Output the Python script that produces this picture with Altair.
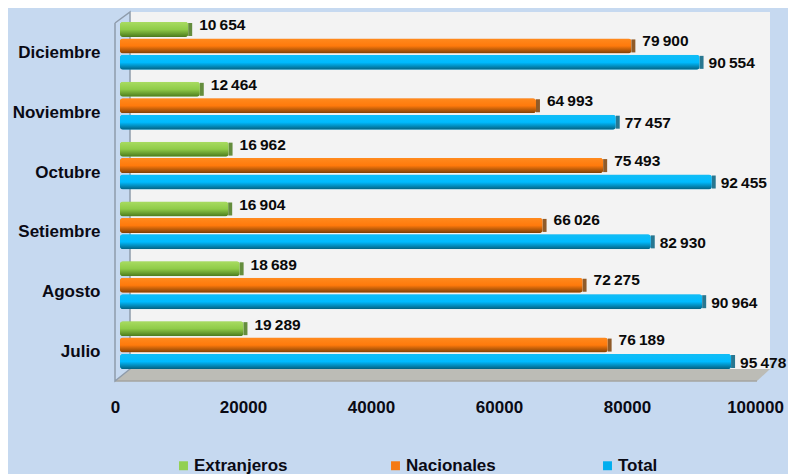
import altair as alt
import pandas as pd

months = ["Diciembre", "Noviembre", "Octubre", "Setiembre", "Agosto", "Julio"]
extranjeros = [10654, 12464, 16962, 16904, 18689, 19289]
nacionales = [79900, 64993, 75493, 66026, 72275, 76189]
total = [90554, 77457, 92455, 82930, 90964, 95478]
series = ["Extranjeros", "Nacionales", "Total"]
flat = ["#92d050", "#f57a14", "#00aeef"]
tops = ["#a9dc62", "#ff8a1e", "#12bdf5"]
mids = ["#8fcb48", "#ff7a0c", "#00bbff"]
lows = ["#4a7a1c", "#7d3f05", "#04607f"]
label_dy = [-4, -5, 1]
label_dx = [11, 11, 9]
ticks = [0, 20000, 40000, 60000, 80000, 100000]

rows = []
for name, vals in zip(series, [extranjeros, nacionales, total]):
    for m, v in zip(months, vals):
        rows.append({"month": m, "series": name, "value": v, "label": f"{v:,}".replace(",", "\u2009")})
df = pd.DataFrame(rows)

X = alt.X("value:Q", scale=alt.Scale(domain=[-781.25, 101562.5], nice=False, zero=False),
          axis=alt.Axis(values=ticks, format="d", grid=False, domain=False, ticks=False,
                        labelPadding=18, labelFlush=False, labelOffset=-5, labelFont="Liberation Sans",
                        labelFontWeight="bold", labelFontSize=17, labelColor="#0a0a14", title=None))
Y = alt.Y("month:N", sort=months, scale=alt.Scale(range=[4, 363], paddingInner=0, paddingOuter=0),
          axis=alt.Axis(grid=False, domain=False, ticks=False, labelPadding=15, labelOffset=7,
                        labelFont="Liberation Sans", labelFontWeight="bold", labelFontSize=17,
                        labelColor="#0a0a14", title=None))
YO = alt.YOffset("series:N", sort=series, scale=alt.Scale(paddingInner=0, paddingOuter=0.32))

# 3-D frame: back wall, floor, left wall
wall = alt.Chart(pd.DataFrame({"a": [0]})).mark_rect(color="#f3f3f3").encode(
    x=alt.value(15), x2=alt.value(655), y=alt.value(0), y2=alt.value(357))
floor_df = pd.DataFrame({"px": [0, 15, 642, 655], "py": [369, 357, 357, 357], "py2": [369, 369, 369, 357]})
floor = alt.Chart(floor_df).mark_area(color="#bcbcb6", interpolate="linear").encode(
    x=alt.X("px:Q", scale=None, axis=None), y=alt.Y("py:Q", scale=None, axis=None), y2="py2:Q")
edge_df = pd.DataFrame({"o": [0, 1, 2, 3, 4], "px": [0, 15, 15, 0, 0], "py": [11, 0, 357, 369, 11]})
edge = alt.Chart(edge_df).mark_line(color="#8f9cab", strokeWidth=1.5).encode(
    x=alt.X("px:Q", scale=None, axis=None), y=alt.Y("py:Q", scale=None, axis=None), order="o:Q")
edge2_df = pd.DataFrame({"o": [0, 1], "px": [0, 642], "py": [369, 369]})
edge2 = alt.Chart(edge2_df).mark_line(color="#a5a5a0", strokeWidth=1.5).encode(
    x=alt.X("px:Q", scale=None, axis=None), y=alt.Y("py:Q", scale=None, axis=None), order="o:Q")

bar_style = dict(height=15, cornerRadius=3)

base = alt.Chart(df).mark_bar(**bar_style).encode(
    x=X, y=Y, yOffset=YO,
    color=alt.Color("series:N", sort=series, scale=alt.Scale(domain=series, range=flat),
                    legend=alt.Legend(orient="none", legendX=60, legendY=445, direction="horizontal",
                                      columns=3, title=None, symbolType="square", symbolSize=80,
                                      symbolStrokeWidth=0, labelFont="Liberation Sans",
                                      labelFontWeight="bold", labelFontSize=17, labelColor="#0a0a14",
                                      columnPadding=99, gridAlign="all", labelOffset=2)))

layers = [wall, floor, edge2, edge, base]
for i, name in enumerate(series):
    d = df[df.series == name]
    grad = alt.Gradient(gradient="linear", x1=0, x2=0, y1=0, y2=1, stops=[
        alt.GradientStop(color=tops[i], offset=0),
        alt.GradientStop(color=mids[i], offset=0.5),
        alt.GradientStop(color=lows[i], offset=1)])
    layers.append(alt.Chart(d).mark_tick(thickness=4, size=13, xOffset=2, color=lows[i], opacity=0.85).encode(
        x=alt.X("value:Q"), y=alt.Y("month:N", sort=months), yOffset=YO))
    layers.append(alt.Chart(d).mark_bar(color=grad, **bar_style).encode(
        x=alt.X("value:Q"), y=alt.Y("month:N", sort=months), yOffset=YO))
    layers.append(alt.Chart(d).mark_text(align="left", baseline="middle", dx=label_dx[i], dy=label_dy[i],
                                         font="Liberation Sans", fontWeight="bold", fontSize=15.5,
                                         color="#0a0a0a").encode(
        x=alt.X("value:Q"), y=alt.Y("month:N", sort=months), yOffset=YO, text="label:N"))

chart = alt.layer(*layers).properties(
    width=655, height=369, background="#c6d9f0",
    padding={"left": 107, "top": 4, "right": 18, "bottom": 93},
    autosize=alt.AutoSizeParams(type="none"),
).configure_view(stroke=None)

chart.save("out.html", embed_options={"renderer": "svg", "actions": False})
